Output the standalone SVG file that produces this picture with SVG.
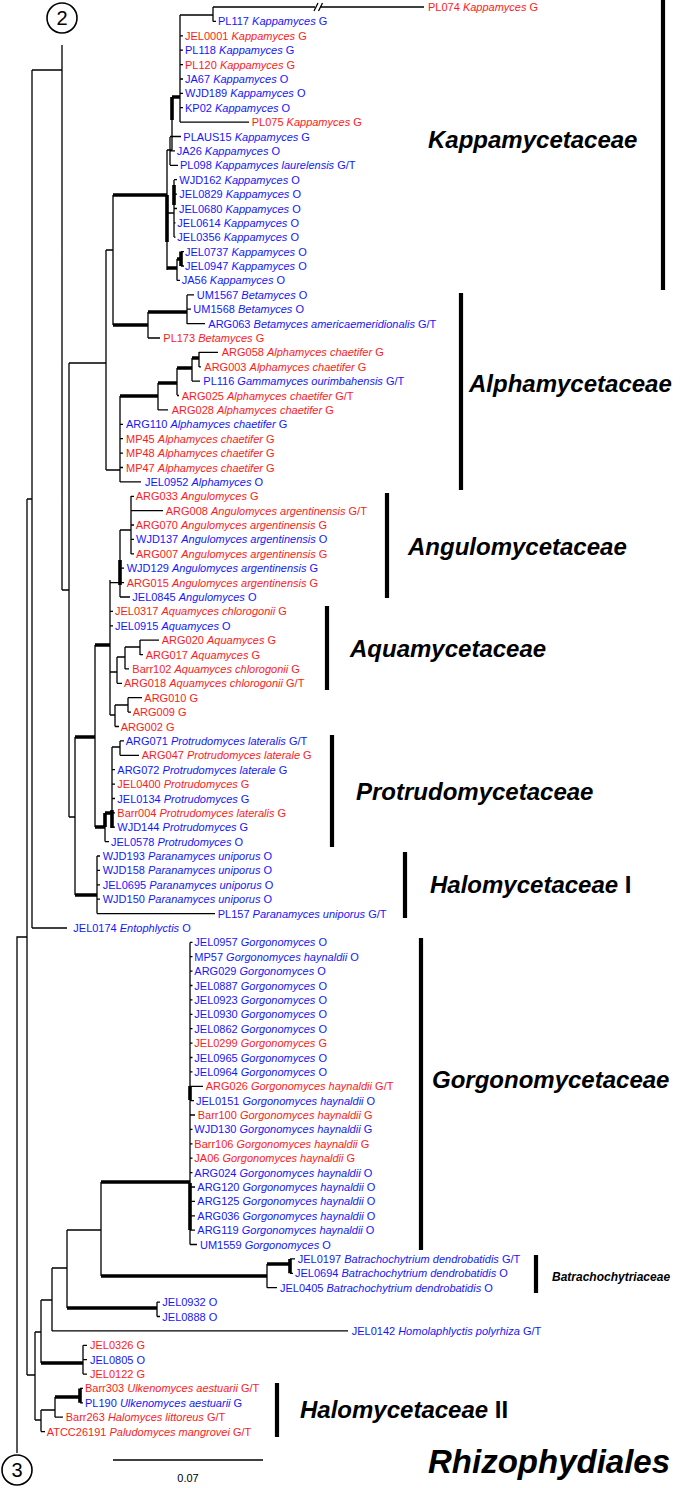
<svg xmlns="http://www.w3.org/2000/svg" width="685" height="1488" viewBox="0 0 685 1488">
<style>
text{font-family:"Liberation Sans",Arial,sans-serif;font-size:11px}
.b{fill:#1515ff}
.r{fill:#ff1a1a}
.i{font-style:italic}
.t{fill:none;stroke:#000;stroke-width:1.3}
.k{fill:none;stroke:#000;stroke-width:3.6}
.bar{stroke:#000;stroke-width:4.2}
.fam{font-size:24px;font-weight:bold;font-style:italic;fill:#000}
.n{font-style:normal}
</style>
<rect width="685" height="1488" fill="#fff"/>
<g id="connectors">
<path class="t" d="M17 1453V937H27M27 499V1375M27 499H32M32 70V928M32 928H67M32 70H62M62 45V590M62 590H69M69 363V817M69 363H106M106 250V470M106 250H113M113 195V325M69 817H75M75 737V895"/>
<!-- Beta -->
<path class="k" d="M113 195H167M113 325H148M148 312H187"/>
<path class="t" d="M148 312V338M148 338H160M187 295V324M187 294.8H194M187 309.2H191M187 323.6H205"/>
<!-- Alpha -->
<path class="t" d="M106 470H120M120 396V482M158 383V410M158 409.9H168M177 368V395M177 395.5H179M192 358V381M192 381.1H200M199 352V367M199 352.4H218M199 366.8H201M120 424.3H123M120 438.7H123M120 453.1H123M120 467.5H123M120 481.9H141"/>
<path class="k" d="M120 396H158M158 383H177M177 368H192M192 358H199"/>
<!-- Kappa -->
<path class="t" d="M167 150V270M167 150H172M172 120V150M180 15V122M180 15H213M213 7V21.4M213 7H315M320 7H424M213 21.4H216M180 35.8H183M180 50.2H183M180 64.6H183M180 79H183M180 93.3H183M180 107.7H183M180 122.1H249M170 137V165M170 136.5H181M170 150.9H175M170 165.3H178M167 213H174M174 180V237M174 179.7H177M174 194.1H177M174 208.5H177M174 222.9H175.5M174 237.2H175.5M177 259V280.4M177 280.4H180M181 251.6H184M181 266H184"/>
<path class="t" d="M314 11L318 3M318.5 11L322.5 3"/>
<path class="k" d="M167 195V242M172 97V120M172 97H180M174 185V205M167 268H177M177 259H181M181 251.6V266"/>
<!-- Angulo / Aqua -->
<path class="k" d="M75 737H95M95 645H110M95 827H105M75 895H97"/>
<path class="t" d="M95 645V827M110 580V715M110 582.6H120M120 530V597M120 530H131M131 496V554M131 496.3H134M131 510.7H163M131 525H134M131 539.4H134M131 553.8H134M120 568.2H124M120 582.6H124M120 597H130M110 611.4H113M110 625.8H113M110 672H117M117 657V683.3M117 683.3H122M117 657H125M125 647V669M125 668.9H129M125 647H140M140 640V655M140 640.2H159M140 654.6H143M110 715H115M115 705V726.5M115 705H128M128 697.7V712.1M128 697.7H142M128 712.1H131M115 726.5H119"/>
<path class="k" d="M120 560V585"/>
<!-- Protrudo -->
<path class="k" d="M105 813V827M105 813H112M112 810V828"/>
<path class="t" d="M105 827V841.6M105 841.6H109M112 747V828M112 747H120M120 740.9V755.3M120 740.9H124M120 755.3H139M112 769.7H115M112 784.1H115M112 798.5H115M112 812.8H115M112 827.2H115"/>
<!-- Halo I -->
<path class="t" d="M97 856V913.6M97 856H100M97 870.4H100M97 884.8H100M97 899.2H100M97 913.6H215"/>
<!-- Gorgo + Batracho -->
<path class="t" d="M190 942.4V1244.5M190 942.4H192.5M190 956.7H192.5M190 971.1H192.5M190 985.5H192.5M190 999.9H192.5M190 1014.3H192.5M190 1028.7H192.5M190 1043.1H192.5M190 1057.5H192.5M190 1071.9H192.5M190 1086.3H203M190 1100.6H194M190 1115H195M190 1129.4H192.5M190 1143.8H192.5M190 1158.2H192.5M190 1172.6H192.5M190 1187H195M190 1201.4H195M190 1215.8H195M190 1230.2H195M190 1244.5H197M101 1182V1276M267 1264V1287.7M290 1258.9H295M290 1273.3H293M267 1287.7H277"/>
<path class="k" d="M190 1086V1100M190 1183V1230M101 1182H190M101 1276H267M267 1264H290M290 1258.9V1273.3"/>
<!-- lower backbone -->
<path class="t" d="M67 1230V1308M67 1230H101M157 1302.1V1316.5M157 1302.1H160M157 1316.5H160M52 1268V1331M52 1268H67M52 1330.9H348M41 1300V1363M41 1300H52M83 1345.3V1374.1M83 1345.3H87M83 1359.7H87M83 1374.1H87M35 1332V1420M27 1375H35M35 1332H41M35 1420H41M41 1410V1431.6M41 1431.6H45M41 1410H55M55 1397V1417.2M55 1417.2H63M80 1388.4H83M80 1402.8H83"/>
<path class="k" d="M67 1308H157M41 1363H83M55 1397H80M80 1388.4V1402.8"/>
<!-- scale -->
<path class="t" d="M113 1460H263"/>
</g>
<g id="root-markers">
<g id="circle-2"><circle cx="62" cy="18" r="15" fill="none" stroke="#000" stroke-width="1.6"/><text x="62" y="25" text-anchor="middle" style="font-size:20px">2</text></g>
<g id="circle-3"><circle cx="17" cy="1470" r="15" fill="none" stroke="#000" stroke-width="1.6"/><text x="17" y="1477" text-anchor="middle" style="font-size:20px">3</text></g>
<g id="scale"><text x="188" y="1482" text-anchor="middle">0.07</text></g>
</g>
<g id="leaves">
<g id="PL074"><text x="428" y="11" class="r">PL074 <tspan class="i">Kappamyces</tspan> G</text></g>
<g id="PL117"><text x="218" y="25.4" class="b">PL117 <tspan class="i">Kappamyces</tspan> G</text></g>
<g id="JEL0001"><text x="185" y="39.8" class="r">JEL0001 <tspan class="i">Kappamyces</tspan> G</text></g>
<g id="PL118"><text x="185" y="54.2" class="b">PL118 <tspan class="i">Kappamyces</tspan> G</text></g>
<g id="PL120"><text x="185" y="68.6" class="r">PL120 <tspan class="i">Kappamyces</tspan> G</text></g>
<g id="JA67"><text x="185" y="83" class="b">JA67 <tspan class="i">Kappamyces</tspan> O</text></g>
<g id="WJD189"><text x="185" y="97.3" class="b">WJD189 <tspan class="i">Kappamyces</tspan> O</text></g>
<g id="KP02"><text x="185" y="111.7" class="b">KP02 <tspan class="i">Kappamyces</tspan> O</text></g>
<g id="PL075"><text x="251.7" y="126.1" class="r">PL075 <tspan class="i">Kappamyces</tspan> G</text></g>
<g id="PLAUS15"><text x="183.3" y="140.5" class="b">PLAUS15 <tspan class="i">Kappamyces</tspan> G</text></g>
<g id="JA26"><text x="176.7" y="154.9" class="b">JA26 <tspan class="i">Kappamyces</tspan> O</text></g>
<g id="PL098"><text x="180" y="169.3" class="b">PL098 <tspan class="i">Kappamyces laurelensis</tspan> G/T</text></g>
<g id="WJD162"><text x="179.3" y="183.7" class="b">WJD162 <tspan class="i">Kappamyces</tspan> O</text></g>
<g id="JEL0829"><text x="179.3" y="198.1" class="b">JEL0829 <tspan class="i">Kappamyces</tspan> O</text></g>
<g id="JEL0680"><text x="179" y="212.5" class="b">JEL0680 <tspan class="i">Kappamyces</tspan> O</text></g>
<g id="JEL0614"><text x="177.3" y="226.9" class="b">JEL0614 <tspan class="i">Kappamyces</tspan> O</text></g>
<g id="JEL0356"><text x="177.3" y="241.2" class="b">JEL0356 <tspan class="i">Kappamyces</tspan> O</text></g>
<g id="JEL0737"><text x="185" y="255.6" class="b">JEL0737 <tspan class="i">Kappamyces</tspan> O</text></g>
<g id="JEL0947"><text x="185" y="270" class="b">JEL0947 <tspan class="i">Kappamyces</tspan> O</text></g>
<g id="JA56"><text x="181.7" y="284.4" class="b">JA56 <tspan class="i">Kappamyces</tspan> O</text></g>
<g id="UM1567"><text x="196.7" y="298.8" class="b">UM1567 <tspan class="i">Betamyces</tspan> O</text></g>
<g id="UM1568"><text x="193.3" y="313.2" class="b">UM1568 <tspan class="i">Betamyces</tspan> O</text></g>
<g id="ARG063"><text x="208.3" y="327.6" class="b">ARG063 <tspan class="i">Betamyces americaemeridionalis</tspan> G/T</text></g>
<g id="PL173"><text x="163.3" y="342" class="r">PL173 <tspan class="i">Betamyces</tspan> G</text></g>
<g id="ARG058"><text x="221.7" y="356.4" class="r">ARG058 <tspan class="i">Alphamyces chaetifer</tspan> G</text></g>
<g id="ARG003"><text x="204.3" y="370.8" class="r">ARG003 <tspan class="i">Alphamyces chaetifer</tspan> G</text></g>
<g id="PL116"><text x="203.3" y="385.1" class="b">PL116 <tspan class="i">Gammamyces ourimbahensis</tspan> G/T</text></g>
<g id="ARG025"><text x="181.7" y="399.5" class="r">ARG025 <tspan class="i">Alphamyces chaetifer</tspan> G/T</text></g>
<g id="ARG028"><text x="171.7" y="413.9" class="r">ARG028 <tspan class="i">Alphamyces chaetifer</tspan> G</text></g>
<g id="ARG110"><text x="126" y="428.3" class="b">ARG110 <tspan class="i">Alphamyces chaetifer</tspan> G</text></g>
<g id="MP45"><text x="126" y="442.7" class="r">MP45 <tspan class="i">Alphamyces chaetifer</tspan> G</text></g>
<g id="MP48"><text x="126" y="457.1" class="r">MP48 <tspan class="i">Alphamyces chaetifer</tspan> G</text></g>
<g id="MP47"><text x="126" y="471.5" class="r">MP47 <tspan class="i">Alphamyces chaetifer</tspan> G</text></g>
<g id="JEL0952"><text x="145" y="485.9" class="b">JEL0952 <tspan class="i">Alphamyces</tspan> O</text></g>
<g id="ARG033"><text x="135.7" y="500.3" class="r">ARG033 <tspan class="i">Angulomyces</tspan> G</text></g>
<g id="ARG008"><text x="165.7" y="514.7" class="r">ARG008 <tspan class="i">Angulomyces argentinensis</tspan> G/T</text></g>
<g id="ARG070"><text x="135.7" y="529" class="r">ARG070 <tspan class="i">Angulomyces argentinensis</tspan> G</text></g>
<g id="WJD137"><text x="136" y="543.4" class="b">WJD137 <tspan class="i">Angulomyces argentinensis</tspan> O</text></g>
<g id="ARG007"><text x="136" y="557.8" class="r">ARG007 <tspan class="i">Angulomyces argentinensis</tspan> G</text></g>
<g id="WJD129"><text x="126.7" y="572.2" class="b">WJD129 <tspan class="i">Angulomyces argentinensis</tspan> G</text></g>
<g id="ARG015"><text x="126.7" y="586.6" class="r">ARG015 <tspan class="i">Angulomyces argentinensis</tspan> G</text></g>
<g id="JEL0845"><text x="132.3" y="601" class="b">JEL0845 <tspan class="i">Angulomyces</tspan> O</text></g>
<g id="JEL0317"><text x="115" y="615.4" class="r">JEL0317 <tspan class="i">Aquamyces chlorogonii</tspan> G</text></g>
<g id="JEL0915"><text x="115" y="629.8" class="b">JEL0915 <tspan class="i">Aquamyces</tspan> O</text></g>
<g id="ARG020"><text x="161.7" y="644.2" class="r">ARG020 <tspan class="i">Aquamyces</tspan> G</text></g>
<g id="ARG017"><text x="145.7" y="658.6" class="r">ARG017 <tspan class="i">Aquamyces</tspan> G</text></g>
<g id="Barr102"><text x="132.3" y="672.9" class="r">Barr102 <tspan class="i">Aquamyces chlorogonii</tspan> G</text></g>
<g id="ARG018"><text x="124" y="687.3" class="r">ARG018 <tspan class="i">Aquamyces chlorogonii</tspan> G/T</text></g>
<g id="ARG010"><text x="144.3" y="701.7" class="r">ARG010 G</text></g>
<g id="ARG009"><text x="132.7" y="716.1" class="r">ARG009 G</text></g>
<g id="ARG002"><text x="120.7" y="730.5" class="r">ARG002 G</text></g>
<g id="ARG071"><text x="125.7" y="744.9" class="b">ARG071 <tspan class="i">Protrudomyces lateralis</tspan> G/T</text></g>
<g id="ARG047"><text x="141.7" y="759.3" class="r">ARG047 <tspan class="i">Protrudomyces laterale</tspan> G</text></g>
<g id="ARG072"><text x="117.3" y="773.7" class="b">ARG072 <tspan class="i">Protrudomyces laterale</tspan> G</text></g>
<g id="JEL0400"><text x="117.3" y="788.1" class="r">JEL0400 <tspan class="i">Protrudomyces</tspan> G</text></g>
<g id="JEL0134"><text x="117.3" y="802.5" class="b">JEL0134 <tspan class="i">Protrudomyces</tspan> G</text></g>
<g id="Barr004"><text x="117.3" y="816.8" class="r">Barr004 <tspan class="i">Protrudomyces lateralis</tspan> G</text></g>
<g id="WJD144"><text x="117.3" y="831.2" class="b">WJD144 <tspan class="i">Protrudomyces</tspan> G</text></g>
<g id="JEL0578"><text x="111" y="845.6" class="b">JEL0578 <tspan class="i">Protrudomyces</tspan> O</text></g>
<g id="WJD193"><text x="102.7" y="860" class="b">WJD193 <tspan class="i">Paranamyces uniporus</tspan> O</text></g>
<g id="WJD158"><text x="102.7" y="874.4" class="b">WJD158 <tspan class="i">Paranamyces uniporus</tspan> O</text></g>
<g id="JEL0695"><text x="102.7" y="888.8" class="b">JEL0695 <tspan class="i">Paranamyces uniporus</tspan> O</text></g>
<g id="WJD150"><text x="102.7" y="903.2" class="b">WJD150 <tspan class="i">Paranamyces uniporus</tspan> O</text></g>
<g id="PL157"><text x="217.7" y="917.6" class="b">PL157 <tspan class="i">Paranamyces uniporus</tspan> G/T</text></g>
<g id="JEL0174"><text x="73.3" y="932" class="b">JEL0174 <tspan class="i">Entophlyctis</tspan> O</text></g>
<g id="JEL0957"><text x="194.3" y="946.4" class="b">JEL0957 <tspan class="i">Gorgonomyces</tspan> O</text></g>
<g id="MP57"><text x="194.3" y="960.7" class="b">MP57 <tspan class="i">Gorgonomyces haynaldii</tspan> O</text></g>
<g id="ARG029"><text x="194.3" y="975.1" class="b">ARG029 <tspan class="i">Gorgonomyces</tspan> O</text></g>
<g id="JEL0887"><text x="194.3" y="989.5" class="b">JEL0887 <tspan class="i">Gorgonomyces</tspan> O</text></g>
<g id="JEL0923"><text x="194.3" y="1003.9" class="b">JEL0923 <tspan class="i">Gorgonomyces</tspan> O</text></g>
<g id="JEL0930"><text x="194.3" y="1018.3" class="b">JEL0930 <tspan class="i">Gorgonomyces</tspan> O</text></g>
<g id="JEL0862"><text x="194.3" y="1032.7" class="b">JEL0862 <tspan class="i">Gorgonomyces</tspan> O</text></g>
<g id="JEL0299"><text x="194.3" y="1047.1" class="r">JEL0299 <tspan class="i">Gorgonomyces</tspan> G</text></g>
<g id="JEL0965"><text x="194.3" y="1061.5" class="b">JEL0965 <tspan class="i">Gorgonomyces</tspan> O</text></g>
<g id="JEL0964"><text x="194.3" y="1075.9" class="b">JEL0964 <tspan class="i">Gorgonomyces</tspan> O</text></g>
<g id="ARG026"><text x="205.7" y="1090.3" class="r">ARG026 <tspan class="i">Gorgonomyces haynaldii</tspan> G/T</text></g>
<g id="JEL0151"><text x="196" y="1104.6" class="b">JEL0151 <tspan class="i">Gorgonomyces haynaldii</tspan> O</text></g>
<g id="Barr100"><text x="197.7" y="1119" class="r">Barr100 <tspan class="i">Gorgonomyces haynaldii</tspan> G</text></g>
<g id="WJD130"><text x="194.3" y="1133.4" class="b">WJD130 <tspan class="i">Gorgonomyces haynaldii</tspan> G</text></g>
<g id="Barr106"><text x="194.3" y="1147.8" class="r">Barr106 <tspan class="i">Gorgonomyces haynaldii</tspan> G</text></g>
<g id="JA06"><text x="194.3" y="1162.2" class="r">JA06 <tspan class="i">Gorgonomyces haynaldii</tspan> G</text></g>
<g id="ARG024"><text x="194.3" y="1176.6" class="b">ARG024 <tspan class="i">Gorgonomyces haynaldii</tspan> O</text></g>
<g id="ARG120"><text x="197.3" y="1191" class="b">ARG120 <tspan class="i">Gorgonomyces haynaldii</tspan> O</text></g>
<g id="ARG125"><text x="197.3" y="1205.4" class="b">ARG125 <tspan class="i">Gorgonomyces haynaldii</tspan> O</text></g>
<g id="ARG036"><text x="197.3" y="1219.8" class="b">ARG036 <tspan class="i">Gorgonomyces haynaldii</tspan> O</text></g>
<g id="ARG119"><text x="197.3" y="1234.2" class="b">ARG119 <tspan class="i">Gorgonomyces haynaldii</tspan> O</text></g>
<g id="UM1559"><text x="200" y="1248.5" class="b">UM1559 <tspan class="i">Gorgonomyces</tspan> O</text></g>
<g id="JEL0197"><text x="297.7" y="1262.9" class="b">JEL0197 <tspan class="i">Batrachochytrium dendrobatidis</tspan> G/T</text></g>
<g id="JEL0694"><text x="295" y="1277.3" class="b">JEL0694 <tspan class="i">Batrachochytrium dendrobatidis</tspan> O</text></g>
<g id="JEL0405"><text x="280" y="1291.7" class="b">JEL0405 <tspan class="i">Batrachochytrium dendrobatidis</tspan> O</text></g>
<g id="JEL0932"><text x="162.3" y="1306.1" class="b">JEL0932 O</text></g>
<g id="JEL0888"><text x="162.3" y="1320.5" class="b">JEL0888 O</text></g>
<g id="JEL0142"><text x="351.7" y="1334.9" class="b">JEL0142 <tspan class="i">Homolaphlyctis polyrhiza</tspan> G/T</text></g>
<g id="JEL0326"><text x="90" y="1349.3" class="r">JEL0326 G</text></g>
<g id="JEL0805"><text x="90" y="1363.7" class="b">JEL0805 O</text></g>
<g id="JEL0122"><text x="90" y="1378.1" class="r">JEL0122 G</text></g>
<g id="Barr303"><text x="85" y="1392.4" class="r">Barr303 <tspan class="i">Ulkenomyces aestuarii</tspan> G/T</text></g>
<g id="PL190"><text x="85" y="1406.8" class="b">PL190 <tspan class="i">Ulkenomyces aestuarii</tspan> G</text></g>
<g id="Barr263"><text x="65.7" y="1421.2" class="r">Barr263 <tspan class="i">Halomyces littoreus</tspan> G/T</text></g>
<g id="ATCC26191"><text x="46.7" y="1435.6" class="r">ATCC26191 <tspan class="i">Paludomyces mangrovei</tspan> G/T</text></g>
</g>
<g id="families">
<g id="fam-kappa"><line class="bar" x1="663" y1="0" x2="663" y2="290"/><text class="fam" x="428" y="148">Kappamycetaceae</text></g>
<g id="fam-alpha"><line class="bar" x1="461" y1="293" x2="461" y2="490"/><text class="fam" x="469" y="392">Alphamycetaceae</text></g>
<g id="fam-angulo"><line class="bar" x1="387" y1="493" x2="387" y2="598"/><text class="fam" x="408" y="555">Angulomycetaceae</text></g>
<g id="fam-aqua"><line class="bar" x1="327" y1="606" x2="327" y2="690"/><text class="fam" x="350" y="657">Aquamycetaceae</text></g>
<g id="fam-protrudo"><line class="bar" x1="332" y1="735" x2="332" y2="847"/><text class="fam" x="356" y="800">Protrudomycetaceae</text></g>
<g id="fam-halo1"><line class="bar" x1="405" y1="852" x2="405" y2="918"/><text class="fam" x="430" y="893">Halomycetaceae <tspan class="n">I</tspan></text></g>
<g id="fam-gorgo"><line class="bar" x1="421" y1="938" x2="421" y2="1250"/><text class="fam" x="432" y="1088">Gorgonomycetaceae</text></g>
<g id="fam-batracho"><line class="bar" x1="536" y1="1255" x2="536" y2="1293"/><text class="fam" x="552" y="1281" style="font-size:12px">Batrachochytriaceae</text></g>
<g id="fam-halo2"><line class="bar" x1="277" y1="1383" x2="277" y2="1437"/><text class="fam" x="300" y="1418">Halomycetaceae <tspan class="n">II</tspan></text></g>
<g id="order"><text class="fam" x="428" y="1473" style="font-size:33px">Rhizophydiales</text></g>
</g>
</svg>
